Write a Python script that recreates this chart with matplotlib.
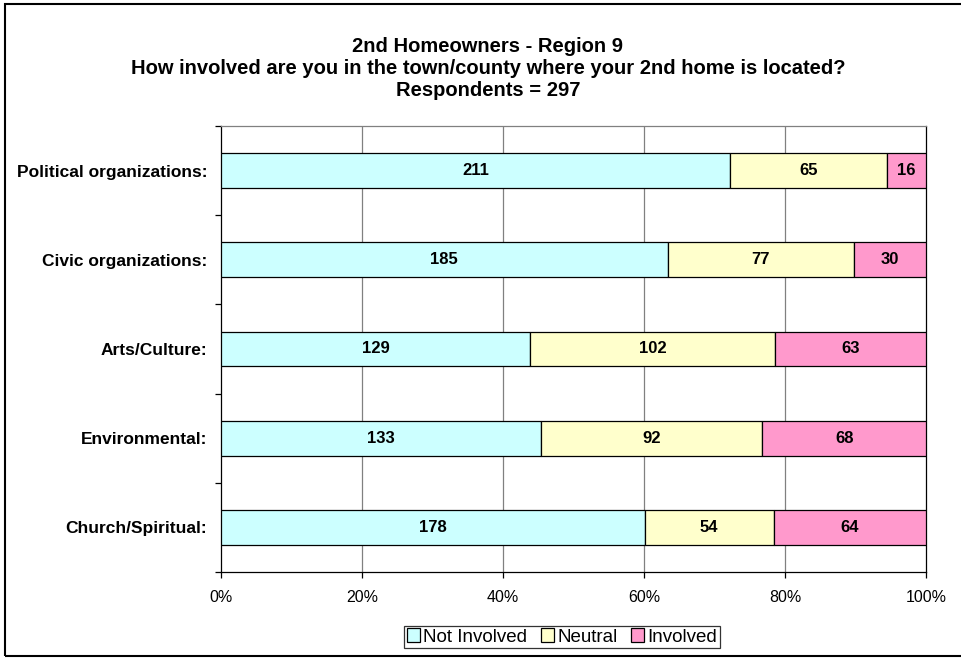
### Imports ###
import matplotlib
matplotlib.use('Agg')
import matplotlib.pyplot as plt
import numpy as np
from matplotlib.patches import Rectangle, Patch

### Data ###
categories = ['Political organizations:', 'Civic organizations:', 'Arts/Culture:',
              'Environmental:', 'Church/Spiritual:']
not_involved = [211, 185, 129, 133, 178]
neutral = [65, 77, 102, 92, 54]
involved = [16, 30, 63, 68, 64]
series_names = ['Not Involved', 'Neutral', 'Involved']
colors = ['#CCFFFF', '#FFFFCC', '#FF99CC']
x_ticks = [0, 20, 40, 60, 80, 100]
x_tick_labels = ['0%', '20%', '40%', '60%', '80%', '100%']

plt.rcParams['font.family'] = ['Liberation Sans', 'DejaVu Sans']

fig = plt.figure(figsize=(9.61, 6.58), dpi=100)
# Plot area in pixels: x 221..926, y 126..572
ax = fig.add_axes([221/961, 1-572/658, (926-221)/961, (572-126)/658])

counts = np.array([not_involved, neutral, involved], dtype=float)
totals = counts.sum(axis=0)
pct = counts / totals * 100
ypos = np.arange(len(categories))

left = np.zeros(len(categories))
for i in range(3):
    ax.barh(ypos, pct[i], left=left, height=0.39, color=colors[i],
            edgecolor='black', linewidth=0.9, zorder=3)
    # Value labels centred in each segment
    for j in range(len(categories)):
        ax.text(left[j] + pct[i][j]/2, ypos[j], f'{int(counts[i][j])}',
                ha='center', va='center', fontsize=12, fontweight='bold', zorder=4)
    left += pct[i]

ax.set_xlim(0, 100)
ax.set_ylim(len(categories) - 0.5, -0.5)

# Gridlines and spines
for xv in x_ticks[1:-1]:
    ax.axvline(xv, color='#808080', linewidth=0.9, zorder=1)
ax.spines['top'].set_color('#808080')
ax.spines['right'].set_color('black')
for s in ax.spines.values():
    s.set_linewidth(0.9)

ax.set_xticks(x_ticks, x_tick_labels, fontsize=11.5)
ax.tick_params(axis='x', direction='out', length=4, width=0.9, pad=9)

# Y ticks at category boundaries, labels at centres
ax.set_yticks(np.arange(-0.5, len(categories) + 0.5, 1))
ax.set_yticklabels([])
ax.tick_params(axis='y', which='major', direction='out', length=4, width=0.9)
ax.set_yticks(ypos, minor=True)
ax.set_yticklabels(categories, minor=True, fontsize=12.5, fontweight='bold')
ax.tick_params(axis='y', which='minor', length=0, pad=10)

# Title lines
title_x = 488/961
fig.text(title_x, 1-46/658, '2nd Homeowners - Region 9', ha='center', va='center',
         fontsize=14.5, fontweight='bold')
fig.text(title_x, 1-68/658, 'How involved are you in the town/county where your 2nd home is located?',
         ha='center', va='center', fontsize=14.5, fontweight='bold')
fig.text(title_x, 1-90/658, 'Respondents = 297', ha='center', va='center',
         fontsize=14.5, fontweight='bold')

handles = [Patch(facecolor=c, edgecolor='black', linewidth=0.9) for c in colors]
leg = fig.legend(handles, series_names, loc='center', bbox_to_anchor=(562/961, 1-637/658),
                 ncol=3, fontsize=13.5, frameon=True, fancybox=False, edgecolor='black',
                 handlelength=0.7, handleheight=0.7, handletextpad=0.2,
                 columnspacing=0.7, borderpad=0.15, borderaxespad=0)
leg.get_frame().set_linewidth(0.9)

# Outer border of the chart (right edge runs off the image)
fig.patches.append(Rectangle((5/961, 2/658), 1.0, 652/658, transform=fig.transFigure,
                             fill=False, edgecolor='black', linewidth=1.5))

fig.savefig('out.png', dpi=100)
